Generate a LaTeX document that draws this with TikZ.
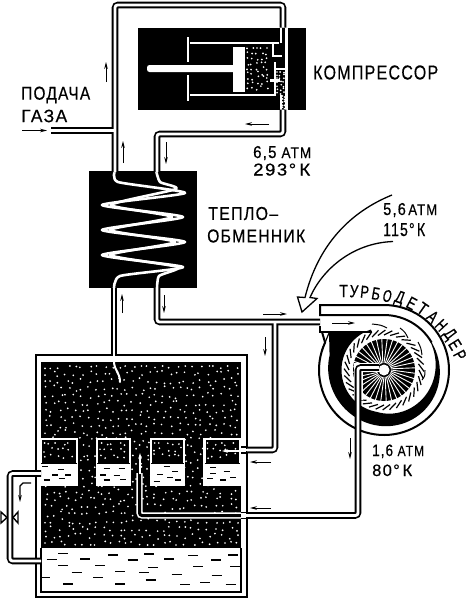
\documentclass[tikz,border=0pt]{standalone}
\usepackage{fontspec}
\setmainfont{Liberation Sans}
\newfontfamily\lab[LetterSpace=8,FakeBold=0.5]{Liberation Sans}
\newfontfamily\labb[FakeBold=0.7]{Liberation Sans}
\usetikzlibrary{arrows.meta}
\tikzset{
  pipeout/.style={draw=black,line width=6.6pt,rounded corners=3pt,line cap=butt},
  pipein/.style={draw=white,line width=2.8pt,rounded corners=2.5pt,line cap=butt},
  flow/.style={black,line width=1pt,-{Stealth[length=7pt,width=3.6pt]}},
  flowwhite/.style={white,line width=1.2pt,-{Stealth[length=6pt,width=3.6pt]}},
  wline/.style={draw=white,line width=2.2pt},
  coil/.style={draw=white,line width=2.6pt,smooth,tension=0.35,line cap=round,line join=round},
  dashmark/.style={black,line width=1.4pt},
  wall/.style={draw=black,line width=2pt},
  lbl/.style={inner sep=0pt,anchor=west,black},
  lblb/.style={inner sep=0pt,anchor=base west,black},
}
\newcommand{\speckle}[5]{% x1 y1 x2 y2 step
  \pgfmathsetmacro{\sa}{#1}\pgfmathsetmacro{\sc}{#3}
  \pgfmathsetmacro{\sxb}{#1+#5}\pgfmathsetmacro{\syb}{#2+#5}
  \foreach \px in {\sa,\sxb,...,\sc}{\foreach \py in {#2,\syb,...,#4}{
    \pgfmathsetmacro{\qx}{min(\sc,max(\sa,\px+0.38*#5*rand))}
    \pgfmathsetmacro{\qy}{min(#4,max(#2,\py+0.38*#5*rand))}
    \fill[white] (\qx,\qy) circle[radius=0.95];}}}
\begin{document}
\begin{tikzpicture}[x=1pt,y=-1pt]
\pgfmathsetseed{7}
\useasboundingbox (0,0) rectangle (467,600);
\fill[white] (0,0) rectangle (467,600);

%=== compressor
\fill[black] (138,27.5) rectangle (306,109.5);
\speckle{247}{48}{271}{91}{5}
\foreach \xa/\ya/\xc/\yc in {190/43/279/43, 190/95/276/95, 188/37/188/62, 188/75/188/101,
   273/43/273/57, 272/56/282/56, 275/62/275/95, 275/69/285/69, 270/80.5/280/80.5, 281/27/281/43, 281/95/281/110, 286.5/27/286.5/110}
  \draw[wline] (\xa,\ya) -- (\xc,\yc);
\speckle{277}{72}{284}{94}{3.5}
\speckle{282.5}{96}{284.5}{109}{3}
\fill[white] (233,47) rectangle (245,92);
\fill[white,rounded corners=2.5pt] (147,65) rectangle (236,72);

%=== heat exchanger
\fill[black] (89,171) rectangle (197,288);
\draw[coil] plot coordinates {(115,170) (118,182) (185,193) (102,205) (183,217) (102,230) (185,242) (102,255) (183,267) (120,276) (114,290)};
\draw[coil] plot coordinates {(156,170) (160,182) (176,189) (111,205) (172,217) (110,230) (175,242) (110,255) (178,267) (159,276) (157,290)};

%=== tank
\draw[wall] (35.5,355) rectangle (246.5,597);
\fill[black] (41,362) rectangle (241,548);
\speckle{45}{366}{238}{545}{7.4}
\draw[wall] (41,548) -- (41,592) -- (241,592) -- (241,548);
\foreach \zx/\zy in {190/640,255/657,340/645,398/660,447/642,508/657,580/647,648/660,700/645,155/658,190/677,300/677,230/697,360/695,432/698,460/683,595/680,530/704,650/706,295/712,135/712,205/732,360/732,452/720,555/733,615/728,692/733,705/680}
  \draw[dashmark] ({\zx/3-5},{340+\zy/3}) -- ({\zx/3+5},{340+\zy/3});

%=== chambers
\foreach \xa/\xc in {41/77,97/130,151/184,204.5/240}{
  \fill[black] (\xa,440) rectangle (\xc,484);
  \fill[white] (\xa,463) rectangle (\xc,484);
  \speckle{\xa+3}{443}{\xc-3}{460}{6.5}
  \draw[white,line width=2.2pt] (\xa,439) rectangle (\xc,485);
}
\draw[black,line width=1pt] (41,463) -- (77,463) (97,463) -- (130,463) (151,463) -- (184,463) (204.5,463) -- (240,463);
\foreach \zx/\zy in {135/380,183/388,165/405,205/405,140/420,185/415,320/385,365/385,310/405,350/407,320/420,370/418,500/380,480/403,525/395,510/412,470/425,535/420,640/383,640/400,680/395,630/415,700/412,670/420}
  \draw[dashmark] ({\zx/3-3},{340+\zy/3}) -- ({\zx/3+3},{340+\zy/3});

%=== turbine
\coordinate (hub) at (384,370);
\draw[black,line width=2pt] (320,305) -- (385,305)
  plot[domain=-90:205,samples=70] ({384+65*cos(\x)},{370+65*sin(\x)}) -- (322,332);
\draw[black,line width=2pt] (320,304) -- (320,315) -- (385,315)
  plot[domain=-90:-30,samples=15] ({384+55*cos(\x)},{370+55*sin(\x)});
\draw[black,line width=2pt] (320,326) -- (320,332) -- (372,332);
\fill[black] plot[domain=-40:195,samples=60] ({384+(55+2*sin(\x+40)*sin(\x+40))*cos(\x)},{370+(55+2*sin(\x+40)*sin(\x+40))*sin(\x)})
  -- (329,332) -- (372,332)
  -- plot[domain=252:-40,samples=70] ({384+(\x>100 ? 42.5 : 42.5+12.5*(100-\x)/140)*cos(\x)},{370+(\x>100 ? 42.5 : 42.5+12.5*(100-\x)/140)*sin(\x)}) -- cycle;
\draw[black,line width=1.2pt] (322,350) -- (329,333);
\fill[black] (hub) circle[radius=31];
\foreach \a in {0,10,...,350}{
  \draw[white,line width=0.9pt] ({384+7*cos(\a)},{370+7*sin(\a)}) -- ({384+31.5*cos(\a+6)},{370+31.5*sin(\a+6)});
  \draw[black,line width=1.2pt] ({384+35*cos(\a)},{370+35*sin(\a)}) -- ({384+40*cos(\a+12)},{370+40*sin(\a+12)});
}
\fill[white] (hub) circle[radius=5.5];
\foreach \ax/\ay/\bx/\by/\cx/\cy in {372/324/381/325/387/328, 400/328/405/332/408/338, 418/342/421/348/422/355, 425/370/425/376/422/380}
  \draw[black,line width=1pt] (\ax,\ay) .. controls (\bx,\by) .. (\cx,\cy);

%=== pipes, walls layer then bore layer
\draw[white,line width=9pt] (379,367.5) -- (358,367.5) -- (358,400);
\foreach \st in {pipeout,pipein}{
  \draw[\st] (115,172) -- (115,5) -- (283,5) -- (283,27.5);
  \draw[\st] (51,130.5) -- (115,130.5);
  \draw[\st] (283,109.5) -- (283,134) -- (157,134) -- (157,172);
  \draw[\st] (114,288) -- (114,356);
  \draw[\st] (157,288) -- (157,322) -- (320,322);
  \draw[\st] (275,322) -- (275,450) -- (247,450);
  \draw[\st] (379,367.5) -- (358,367.5) -- (358,515.5) -- (247,515.5);
}
\draw[white,line width=2.8pt] (114,355) -- (114,362);
\draw[white,line width=2pt,line cap=round] (114,361) .. controls (114,371) and (120,372) .. (120,382);
% pipes inside the tank
\draw[black,line width=1.8pt] (241,447) -- (247,447) (241,453) -- (247,453);
\draw[white,line width=2.8pt] (241,450) -- (250,450);
\draw[white,line width=6.4pt,rounded corners=3pt] (241,515.5) -- (139.5,515.5) -- (139.5,473);
\draw[black,line width=3pt,rounded corners=2.5pt] (241,515.5) -- (139.5,515.5) -- (139.5,472);
\draw[black,line width=1.8pt] (241,512.5) -- (249,512.5) (241,518.5) -- (249,518.5);
\draw[white,line width=2.8pt] (241,515.5) -- (250,515.5);
\draw[flowwhite] (140,474) -- (140,453);
\draw[flowwhite] (241,451) -- (222,451);

%=== drain loop and valve
\foreach \st in {pipeout,pipein}
  \draw[\st] (41,473.5) -- (10,473.5) -- (10,561) -- (41,561);
\fill[white,draw=black,line width=1.4pt] (1,512) -- (7,517.5) -- (1,523) -- cycle;
\fill[white,draw=black,line width=1.4pt] (18,512) -- (13,517.5) -- (18,523) -- cycle;
\draw[black,line width=1.1pt,-{Stealth[length=7pt,width=3.6pt]}] (31,483) -- (23,483) -- (20,486) -- (20,502);

%=== flow arrows
\draw[flow] (106,82) -- (106,62);
\draw[flow] (123,163) -- (123,141);
\draw[flow] (166,142) -- (166,164);
\draw[flow] (269,124) -- (245,124);
\draw[flow] (22,130.5) -- (47,130.5);
\draw[flow] (122,313) -- (122,294);
\draw[flow] (164,295) -- (164,313);
\draw[flow] (263,314) -- (287,314);
\draw[flow] (332,323) -- (355,323);
\draw[flow] (265,337) -- (265,356);
\draw[flow] (271,462) -- (250,462);
\draw[flow] (271,508) -- (250,508);
\draw[flow] (350,438) -- (350,459);

%=== big curved arrow
\draw[black,line width=1.3pt,line join=miter] (392,195) .. controls (350,212) and (318,245) .. (305,297.5)
  -- (297.5,297) -- (302,312) -- (317,298.5) -- (310,297.5)
  .. controls (322,270) and (352,243) .. (393,241.5);

%=== labels
\node[lbl] (kompr) at (313,72.5) {\resizebox{125pt}{14pt}{\lab КОМПРЕССОР}};
\node[lbl] (podacha) at (21,95) {\resizebox{69pt}{13pt}{\lab ПОДАЧА}};
\node[lbl] (gaza) at (21,116) {\resizebox{46pt}{12.5pt}{\lab ГАЗА}};
\node[lblb] (p65) at (253,158) {\resizebox{58pt}{12pt}{\lab 6,5\,\,{\small АТМ}}};
\node[lblb] (t293) at (253,175.5) {\resizebox{57pt}{12pt}{\lab 293°\,К}};
\node[lbl] (teplo) at (208,213.5) {\resizebox{70pt}{13pt}{\lab ТЕПЛО–}};
\node[lbl] (obmen) at (207,236) {\resizebox{98pt}{13pt}{\lab ОБМЕННИК}};
\node[lblb] (p56) at (383,215) {\resizebox{54pt}{12pt}{\lab 5,6\,{\small АТМ}}};
\node[lblb] (t115) at (383,236) {\resizebox{42pt}{13pt}{\lab 115°\,К}};
\node[lblb] (p16) at (372,456) {\resizebox{52pt}{11.5pt}{\lab 1,6\,\,{\small АТМ}}};
\node[lblb] (t80) at (372,476) {\resizebox{40pt}{11.5pt}{\lab 80°\,К}};
\foreach \n/\ch/\zx/\zy/\r in {1/Т/221/303/0, 2/У/252/304/-3, 3/Р/284/306/-6, 4/Б/318/311/-10, 5/О/352/318/-15, 6/Д/388/326/-20, 7/Е/425/340/-28, 8/Т/458/356/-35, 9/А/488/380/-42, 10/Н/514/406/-47, 11/Д/537/434/-52, 12/Е/555/464/-58, 13/Р/570/496/-62}
  \node[inner sep=0pt,rotate=\r] (turb\n) at ({270+\zx/3},{190+\zy/3}) {\resizebox{8.5pt}{12pt}{\labb \ch}};
\end{tikzpicture}
\end{document}
